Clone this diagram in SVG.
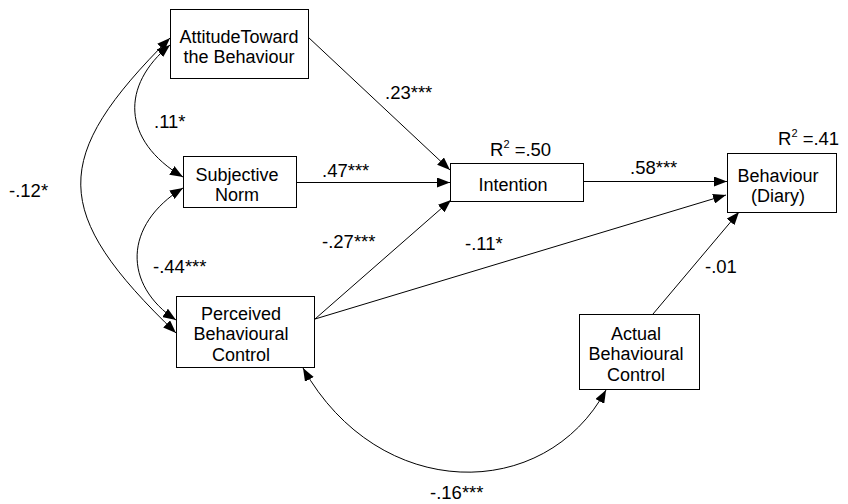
<svg xmlns="http://www.w3.org/2000/svg" width="848" height="504" viewBox="0 0 848 504">
<style>
  .box{fill:#fff;stroke:#000;stroke-width:1}
  text{font-family:"Liberation Sans",Arial,sans-serif;font-size:18.5px;fill:#000}
  .c{text-anchor:middle;font-size:18px}
  .ln{fill:none;stroke:#000;stroke-width:1}
  .sup{font-size:11px}
</style>
<defs>
  <marker id="ah" markerUnits="userSpaceOnUse" markerWidth="14" markerHeight="10" refX="13" refY="5" orient="auto-start-reverse" viewBox="0 0 14 10">
    <path d="M0,0 L13,5 L0,10 z" fill="#000"/>
  </marker>
</defs>
<rect width="848" height="504" fill="#fff"/>
<g id="connectors">
  <line class="ln" x1="308" y1="37" x2="450" y2="170" marker-end="url(#ah)"/>
  <line class="ln" x1="296" y1="182.5" x2="450" y2="182.5" marker-end="url(#ah)"/>
  <line class="ln" x1="315" y1="319" x2="451" y2="200" marker-end="url(#ah)"/>
  <line class="ln" x1="583" y1="181.5" x2="727" y2="181.5" marker-end="url(#ah)"/>
  <line class="ln" x1="315" y1="319" x2="726" y2="195" marker-end="url(#ah)"/>
  <line class="ln" x1="653" y1="314" x2="739" y2="212" marker-end="url(#ah)"/>
  <path class="ln" d="M170,38 C50,158 50,212 176,333" marker-start="url(#ah)" marker-end="url(#ah)"/>
  <path class="ln" d="M170,45 C121,85 121,140 183,177" marker-start="url(#ah)" marker-end="url(#ah)"/>
  <path class="ln" d="M183,188 C123,225 123,285 176,320" marker-start="url(#ah)" marker-end="url(#ah)"/>
  <path class="ln" d="M303,368 C379,503 545,503 606,390" marker-start="url(#ah)" marker-end="url(#ah)"/>
</g>
<g id="attitude">
  <rect class="box" x="170.5" y="9.5" width="138" height="69"/>
  <text class="c" x="239" y="43">AttitudeToward<tspan x="239" dy="20.3">the Behaviour</tspan></text>
</g>
<g id="subjective-norm">
  <rect class="box" x="183.5" y="156.5" width="113" height="51"/>
  <text class="c" x="237" y="181">Subjective<tspan x="237" dy="20.3">Norm</tspan></text>
</g>
<g id="pbc">
  <rect class="box" x="176.5" y="296.5" width="138" height="71"/>
  <text class="c" x="241" y="320">Perceived<tspan x="241" dy="20.3">Behavioural</tspan><tspan x="241" dy="20.3">Control</tspan></text>
</g>
<g id="intention">
  <rect class="box" x="450.5" y="163.5" width="133" height="38"/>
  <text class="c" x="513" y="191">Intention</text>
</g>
<g id="behaviour">
  <rect class="box" x="727.5" y="153.5" width="109" height="59"/>
  <text class="c" x="778" y="182">Behaviour<tspan x="778" dy="20.3">(Diary)</tspan></text>
</g>
<g id="abc">
  <rect class="box" x="579.5" y="314.5" width="120" height="75"/>
  <text class="c" x="636" y="340">Actual<tspan x="636" dy="20.3">Behavioural</tspan><tspan x="636" dy="20.3">Control</tspan></text>
</g>
<g id="labels">
  <text x="385" y="99">.23***</text>
  <text x="154" y="128">.11*</text>
  <text x="322" y="177">.47***</text>
  <text x="9" y="197">-.12*</text>
  <text x="490" y="156">R<tspan class="sup" dy="-8">2</tspan><tspan dy="8"> =.50</tspan></text>
  <text x="630" y="174">.58***</text>
  <text x="778" y="145">R<tspan class="sup" dy="-8">2</tspan><tspan dy="8"> =.41</tspan></text>
  <text x="322" y="248">-.27***</text>
  <text x="465" y="250">-.11*</text>
  <text x="153" y="273">-.44***</text>
  <text x="705" y="273">-.01</text>
  <text x="430" y="499">-.16***</text>
</g>
</svg>
